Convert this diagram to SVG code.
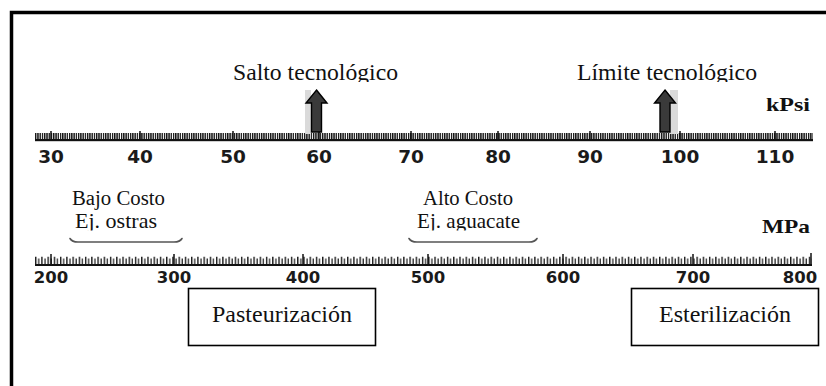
<svg xmlns="http://www.w3.org/2000/svg" width="826" height="386" viewBox="0 0 826 386">
<style>
.lbl{font-family:"Liberation Serif","Times New Roman",serif;fill:#111}
.num{font-family:"DejaVu Sans",Verdana,sans-serif;font-weight:bold;fill:#1a1a1a;text-anchor:middle}
.unit{font-family:"Liberation Serif","Times New Roman",serif;font-weight:bold;fill:#111}
.box{fill:#fff;stroke:#000;stroke-width:1.6}
.arrow{fill:#3a3a3a;stroke:#000;stroke-width:1.4;stroke-linejoin:miter}
.band{fill:#dadada}
.brace{fill:none;stroke:#555;stroke-width:1.6;stroke-linecap:round}
.major{stroke:#111;stroke-width:1.5}
</style>
<defs>
<pattern id="kpsiTicks" patternUnits="userSpaceOnUse" x="35" y="0" width="2.26" height="400">
<rect x="0" y="133" width="1.4" height="6" fill="#151515"/>
</pattern>
<pattern id="mpaTicks" patternUnits="userSpaceOnUse" x="35" y="0" width="6.24" height="400">
<rect x="0" y="256.5" width="1.4" height="7.5" fill="#1a1a1a"/>
<rect x="3.12" y="258.5" width="1.3" height="5.5" fill="#2a2a2a"/>
</pattern>
<clipPath id="clipTop"><rect x="0" y="0" width="826" height="82"/></clipPath>
<clipPath id="clipEj"><rect x="0" y="210" width="826" height="20.5"/></clipPath>
</defs>
<rect x="0" y="0" width="826" height="386" fill="#fff"/>
<rect id="frame" x="11.5" y="12.5" width="900" height="500" fill="none" stroke="#000" stroke-width="3.5"/>

<g id="kpsi-scale">
<rect x="35" y="133" width="778" height="6" fill="url(#kpsiTicks)"/>
<rect x="35" y="139" width="778" height="2.2" fill="#111"/>
<g class="major">
<line x1="51" y1="131" x2="51" y2="139"/><line x1="140" y1="131" x2="140" y2="139"/>
<line x1="233" y1="131" x2="233" y2="139"/><line x1="319" y1="131" x2="319" y2="139"/>
<line x1="411" y1="131" x2="411" y2="139"/><line x1="498" y1="131" x2="498" y2="139"/>
<line x1="590" y1="131" x2="590" y2="139"/><line x1="680" y1="131" x2="680" y2="139"/>
<line x1="775" y1="131" x2="775" y2="139"/>
</g>
<g font-size="18.5">
<text class="num" x="51" y="163">30</text>
<text class="num" x="140" y="163">40</text>
<text class="num" x="233" y="163">50</text>
<text class="num" x="319" y="163">60</text>
<text class="num" x="411" y="163">70</text>
<text class="num" x="498" y="163">80</text>
<text class="num" x="590" y="163">90</text>
<text class="num" x="680" y="163">100</text>
<text class="num" x="775" y="163">110</text>
</g>
<text id="kpsi-unit" class="unit" x="766" y="111" font-size="19" textLength="44" lengthAdjust="spacingAndGlyphs">kPsi</text>
</g>

<g id="mpa-scale">
<rect x="35" y="256.5" width="777" height="7.5" fill="url(#mpaTicks)"/>
<rect x="35" y="264" width="777" height="2" fill="#111"/>
<g class="major">
<line x1="51" y1="254" x2="51" y2="264"/><line x1="174" y1="254" x2="174" y2="264"/>
<line x1="303" y1="254" x2="303" y2="264"/><line x1="428" y1="254" x2="428" y2="264"/>
<line x1="563" y1="254" x2="563" y2="264"/><line x1="693" y1="254" x2="693" y2="264"/>
<line x1="811" y1="253" x2="811" y2="264"/>
</g>
<g font-size="16.5">
<text class="num" x="51" y="283">200</text>
<text class="num" x="174" y="283">300</text>
<text class="num" x="303" y="283">400</text>
<text class="num" x="428" y="283">500</text>
<text class="num" x="563" y="283">600</text>
<text class="num" x="693" y="283">700</text>
<text class="num" x="800" y="283">800</text>
</g>
<text id="mpa-unit" class="unit" x="762" y="233" font-size="19" textLength="48" lengthAdjust="spacingAndGlyphs">MPa</text>
</g>

<g id="salto">
<rect class="band" x="305" y="90" width="6" height="44"/>
<path class="arrow" d="M316.5,90 L327,103 L321.5,103 L321.5,132 L311.5,132 L311.5,103 L306,103 Z"/>
<text class="lbl" x="233" y="80" font-size="23.5" textLength="165" lengthAdjust="spacingAndGlyphs" clip-path="url(#clipTop)">Salto tecnológico</text>
</g>

<g id="limite">
<rect class="band" x="670" y="90" width="8" height="44"/>
<path class="arrow" d="M665,90 L675.5,103 L670,103 L670,132 L660,132 L660,103 L654.5,103 Z"/>
<text class="lbl" x="577" y="80" font-size="23.5" textLength="180" lengthAdjust="spacingAndGlyphs" clip-path="url(#clipTop)">Límite tecnológico</text>
</g>

<g id="bajo-costo">
<text class="lbl" x="72" y="205" font-size="20.5" textLength="93" lengthAdjust="spacingAndGlyphs">Bajo Costo</text>
<text class="lbl" x="75" y="228" font-size="21" textLength="82" lengthAdjust="spacingAndGlyphs" clip-path="url(#clipEj)">Ej. ostras</text>
<path class="brace" d="M70,238.5 Q72,242 78,242 L174,242 Q180,242 182,238.5"/>
</g>

<g id="alto-costo">
<text class="lbl" x="423" y="205" font-size="20.5" textLength="90" lengthAdjust="spacingAndGlyphs">Alto Costo</text>
<text class="lbl" x="417" y="228" font-size="21" textLength="103" lengthAdjust="spacingAndGlyphs" clip-path="url(#clipEj)">Ej. aguacate</text>
<path class="brace" d="M409,238.5 Q411,242 417,242 L529,242 Q535,242 537,238.5"/>
</g>

<g id="pasteurizacion">
<rect class="box" x="188.5" y="288.5" width="187" height="57"/>
<text class="lbl" x="282" y="322" font-size="23.5" text-anchor="middle" textLength="140" lengthAdjust="spacingAndGlyphs">Pasteurización</text>
</g>

<g id="esterilizacion">
<rect class="box" x="631.5" y="288.5" width="187" height="57"/>
<text class="lbl" x="725" y="322" font-size="23.5" text-anchor="middle" textLength="132" lengthAdjust="spacingAndGlyphs">Esterilización</text>
</g>
</svg>
